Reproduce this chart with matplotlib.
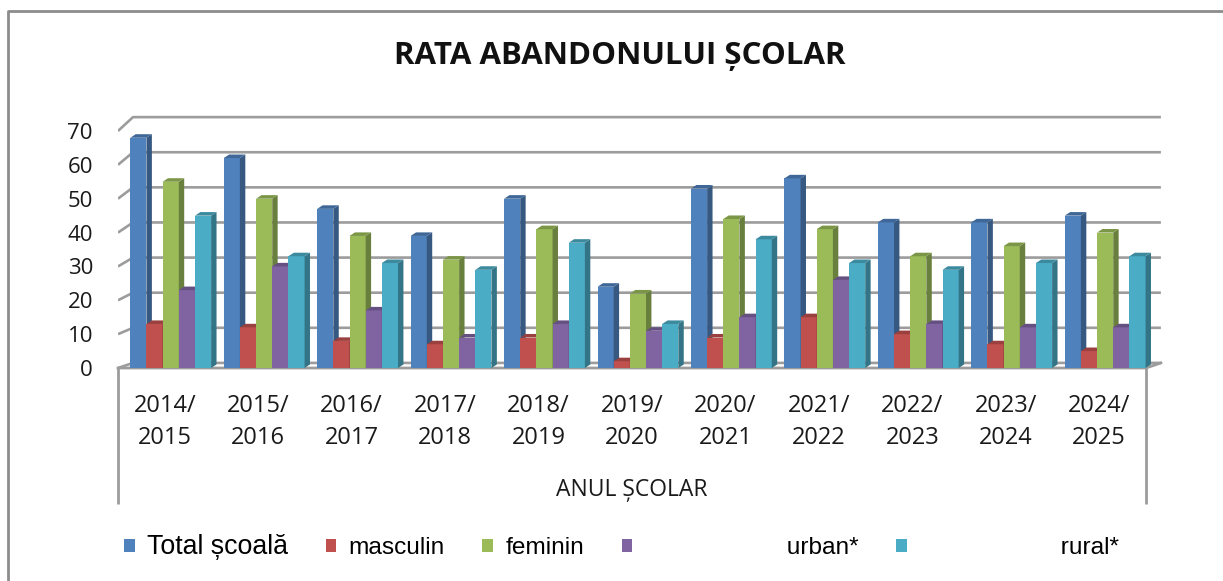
import matplotlib
matplotlib.use("Agg")
import matplotlib.pyplot as plt
from matplotlib.patches import Polygon
from matplotlib.lines import Line2D
from matplotlib.colors import to_rgb

plt.rcParams['font.family'] = ['Open Sans', 'DejaVu Sans']

W, H, DPI = 1223, 581, 100

# --- data ---
years = ["2014/\n2015", "2015/\n2016", "2016/\n2017", "2017/\n2018", "2018/\n2019",
         "2019/\n2020", "2020/\n2021", "2021/\n2022", "2022/\n2023", "2023/\n2024",
         "2024/\n2025"]
total = [68, 62, 47, 39, 50, 24, 53, 56, 43, 43, 45]
masculin = [13, 12, 8, 7, 9, 2, 9, 15, 10, 7, 5]
feminin = [55, 50, 39, 32, 41, 22, 44, 41, 33, 36, 40]
urban = [23, 30, 17, 9, 13, 11, 15, 26, 13, 12, 12]
rural = [45, 33, 31, 29, 37, 13, 38, 31, 29, 31, 33]

series = [total, masculin, feminin, urban, rural]
names = ["Total școală", "masculin", "feminin", " " * 21 + "urban*", " " * 21 + "rural*"]
colors = ["#4F81BD", "#C0504D", "#9BBB59", "#8064A2", "#4BACC6"]

# 3d look
BAR_W = 0.173
GROUP_SHIFT = 0.064
DX, DY = 0.058, 1.05          # bar depth
GX = 0.1605                   # back wall shift (x)
XL, XR = -0.5, 10.5
GRID = '#9c9c9c'


def shade(c, f):
    r, g, b = to_rgb(c)
    return (r * f, g * f, b * f)


def back_y(v):
    # back wall is a bit higher and stretched (perspective)
    return v * 1.037 + 1.5


fig = plt.figure(figsize=(W / DPI, H / DPI), dpi=DPI)
ax = fig.add_axes([118 / W, (H - 368) / H, 1044 / W, 75 * 3.386 / H])
ax.set_xlim(XL, XR + GX + 0.012)
ax.set_ylim(0, 75)
for s in ax.spines.values():
    s.set_visible(False)

yt = list(range(0, 71, 10))
for v in yt:
    ax.plot([XL, XL + GX, XR + GX], [v, back_y(v), back_y(v)], color=GRID, lw=1.9,
            zorder=1, solid_capstyle='butt')

# floor
ax.plot([XL, XR, XR + GX], [0, 0, back_y(0)], color=GRID, lw=2, zorder=1, clip_on=False)
ax.vlines([XL, XR], -40.3, 0, color=GRID, lw=2, clip_on=False)

containers = []
x = list(range(len(years)))
for j, (vals, c) in enumerate(zip(series, colors)):
    pos = [i + GROUP_SHIFT + (j - 2) * BAR_W for i in x]
    z = 3 + j * 0.1
    bars = ax.bar(pos, vals, width=BAR_W, color=c, zorder=z, linewidth=0)
    containers.append(bars)
    for r in bars:
        x0, w, h = r.get_x(), r.get_width(), r.get_height()
        side = Polygon([(x0 + w, 0), (x0 + w + DX, DY), (x0 + w + DX, h + DY), (x0 + w, h)],
                       closed=True, fc=shade(c, 0.68), ec='none', zorder=z + 0.05)
        top = Polygon([(x0, h), (x0 + w, h), (x0 + w + DX, h + DY), (x0 + DX, h + DY)],
                      closed=True, fc=shade(c, 0.8), ec='none', zorder=z + 0.05)
        ax.add_patch(side)
        ax.add_patch(top)

ax.set_yticks(yt)
ax.tick_params(axis='y', length=0, pad=18, labelsize=16, labelcolor='#1a1a1a')
ax.set_xticks(x, years, linespacing=1.42)
ax.tick_params(axis='x', length=0, pad=19, labelsize=17, labelcolor='#1a1a1a')

fig.text(620 / W, 1 - 56 / H, "RATA ABANDONULUI ȘCOLAR", ha='center', va='center',
         fontsize=22.5, fontweight='bold', color='#111111')
fig.text(632 / W, 1 - 490 / H, "ANUL ȘCOLAR", ha='center', va='center', fontsize=16.5,
         color='#1a1a1a')

leg = fig.legend(containers, names, loc='center left', bbox_to_anchor=(124 / W, 1 - 547 / H),
                 ncol=5, frameon=False, handlelength=0.43, handleheight=0.48,
                 handletextpad=0.5, columnspacing=1.55, borderpad=0, borderaxespad=0,
                 prop={'family': ['Liberation Sans', 'DejaVu Sans'], 'size': 17.6})
leg.get_texts()[0].set_fontsize(19.3)

# outer chart frame
fig.add_artist(Line2D([8 / W, 8 / W, 1], [0, 1 - 11 / H, 1 - 11 / H], color='#8c8c8c', lw=2))

fig.savefig("out.png", dpi=DPI)
